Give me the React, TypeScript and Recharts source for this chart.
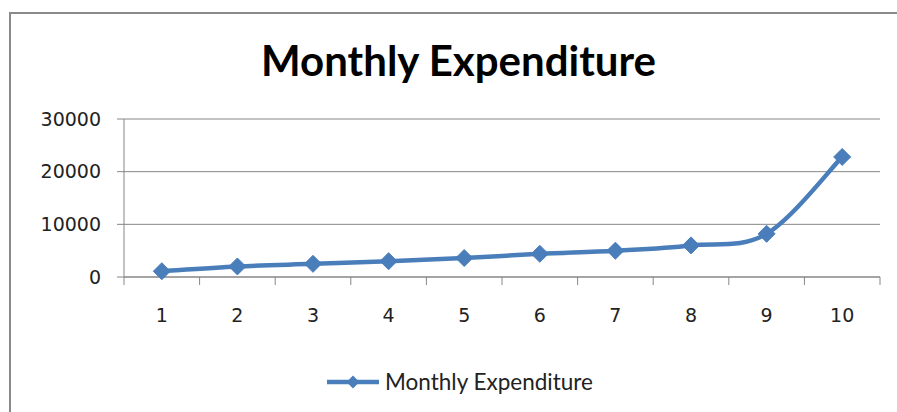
import React from "react";
import {
  LineChart,
  Line,
  XAxis,
  YAxis,
  CartesianGrid,
} from "recharts";

// values
const months = ["1", "2", "3", "4", "5", "6", "7", "8", "9", "10"];
const expenditure = [1100, 2000, 2500, 3000, 3600, 4400, 5000, 6000, 8200, 22800];
const yTicks = [0, 10000, 20000, 30000];

const SERIES_NAME = "Monthly Expenditure";
const BLUE = "#4A7EBB";
const GRID = "#868686";
const MARKER = 8.5;

const data = months.map((m, i) => ({ month: m, value: expenditure[i] }));

// Excel-style smoothed line (Catmull-Rom through the points)
const smoothCurve = (context: any) => {
  let pts: number[][] = [];
  return {
    areaStart() {},
    areaEnd() {},
    lineStart() {
      pts = [];
    },
    point(x: number, y: number) {
      pts.push([+x, +y]);
    },
    lineEnd() {
      if (!pts.length) return;
      context.moveTo(pts[0][0], pts[0][1]);
      for (let i = 0; i < pts.length - 1; i++) {
        const p0 = pts[i - 1] || pts[i];
        const p1 = pts[i];
        const p2 = pts[i + 1];
        const p3 = pts[i + 2] || p2;
        context.bezierCurveTo(
          p1[0] + (p2[0] - p0[0]) / 6,
          p1[1] + (p2[1] - p0[1]) / 6,
          p2[0] - (p3[0] - p1[0]) / 6,
          p2[1] - (p3[1] - p1[1]) / 6,
          p2[0],
          p2[1]
        );
      }
    },
  };
};

const Diamond = (props: any) => {
  const { cx, cy } = props;
  if (cx == null || cy == null) return null;
  const r = MARKER;
  return (
    <polygon
      points={`${cx},${cy - r} ${cx + r},${cy} ${cx},${cy + r} ${cx - r},${cy}`}
      fill={BLUE}
      stroke={BLUE}
      strokeWidth={1}
    />
  );
};

// labels sit in the middle of each category, tick marks between categories
const MonthTick = (props: any) => {
  const { x, y, payload, index, visibleTicksCount } = props;
  const half = payload?.offset || 37.8;
  const isLast = index === (visibleTicksCount ?? months.length) - 1;
  return (
    <g>
      <line x1={x - half} x2={x - half} y1={y - 8} y2={y} stroke={GRID} />
      {isLast && <line x1={x + half} x2={x + half} y1={y - 8} y2={y} stroke={GRID} />}
      <text
        x={x}
        y={y + 24}
        dy="0.71em"
        textAnchor="middle"
        fill="#222"
        fontFamily="DejaVu Sans"
        fontSize={19}
      >
        {payload.value}
      </text>
    </g>
  );
};

export default function App() {
  return (
    <div
      style={{
        position: "fixed",
        left: 0,
        top: 0,
        width: 897,
        height: 412,
        overflow: "hidden",
        background: "#fff",
      }}
    >
      <style>{`html, body { margin: 0; padding: 0; overflow: hidden; }`}</style>
      <div style={{ position: "absolute", left: 0, top: 0 }}>
        <LineChart
          width={897}
          height={412}
          data={data}
          margin={{ top: 119, right: 17, left: 0, bottom: 85 }}
        >
          <CartesianGrid horizontal vertical={false} stroke={GRID} strokeWidth={1} />
          <XAxis
            dataKey="month"
            scale="band"
            height={50}
            axisLine={{ stroke: GRID }}
            tickLine={false}
            tickSize={8}
            tickMargin={0}
            interval={0}
            tick={<MonthTick />}
          />
          <YAxis
            width={124}
            domain={[0, 30000]}
            ticks={yTicks}
            interval={0}
            axisLine={{ stroke: GRID }}
            tickLine={{ stroke: GRID }}
            tickSize={7}
            tickMargin={16}
            tick={{ fill: "#222", fontFamily: "DejaVu Sans", fontSize: 19 }}
          />
          <Line
            name={SERIES_NAME}
            type={smoothCurve as any}
            dataKey="value"
            stroke={BLUE}
            strokeWidth={4.5}
            dot={<Diamond />}
            activeDot={false}
            isAnimationActive={false}
          />
        </LineChart>
      </div>
      {/* chart frame: only top and left edges are visible */}
      <div style={{ position: "absolute", left: 9, top: 12, width: 888, height: 2, background: "#8a8a8a" }} />
      <div style={{ position: "absolute", left: 9, top: 12, width: 2, height: 400, background: "#8a8a8a" }} />
      <div style={{ position: "absolute", left: 884, top: 14, width: 13, height: 398, background: "#fff" }} />
      <div
        style={{
          position: "absolute",
          left: 0,
          width: 917,
          top: 39,
          textAlign: "center",
          fontFamily: "Lato",
          fontWeight: 700,
          fontSize: 42,
          lineHeight: "42px",
          color: "#000",
        }}
      >
        Monthly Expenditure
      </div>
      <div
        style={{
          position: "absolute",
          left: 327,
          top: 370,
          display: "flex",
          alignItems: "center",
          fontFamily: "Lato",
          fontSize: 22.5,
          lineHeight: "24px",
          color: "#222",
          whiteSpace: "nowrap",
        }}
      >
        <svg width={56} height={16} style={{ marginRight: 2 }}>
          <line x1={0} x2={52} y1={8} y2={8} stroke={BLUE} strokeWidth={4.5} />
          <polygon points="26,1.5 32.5,8 26,14.5 19.5,8" fill={BLUE} />
        </svg>
        <span>{SERIES_NAME}</span>
      </div>
    </div>
  );
}
